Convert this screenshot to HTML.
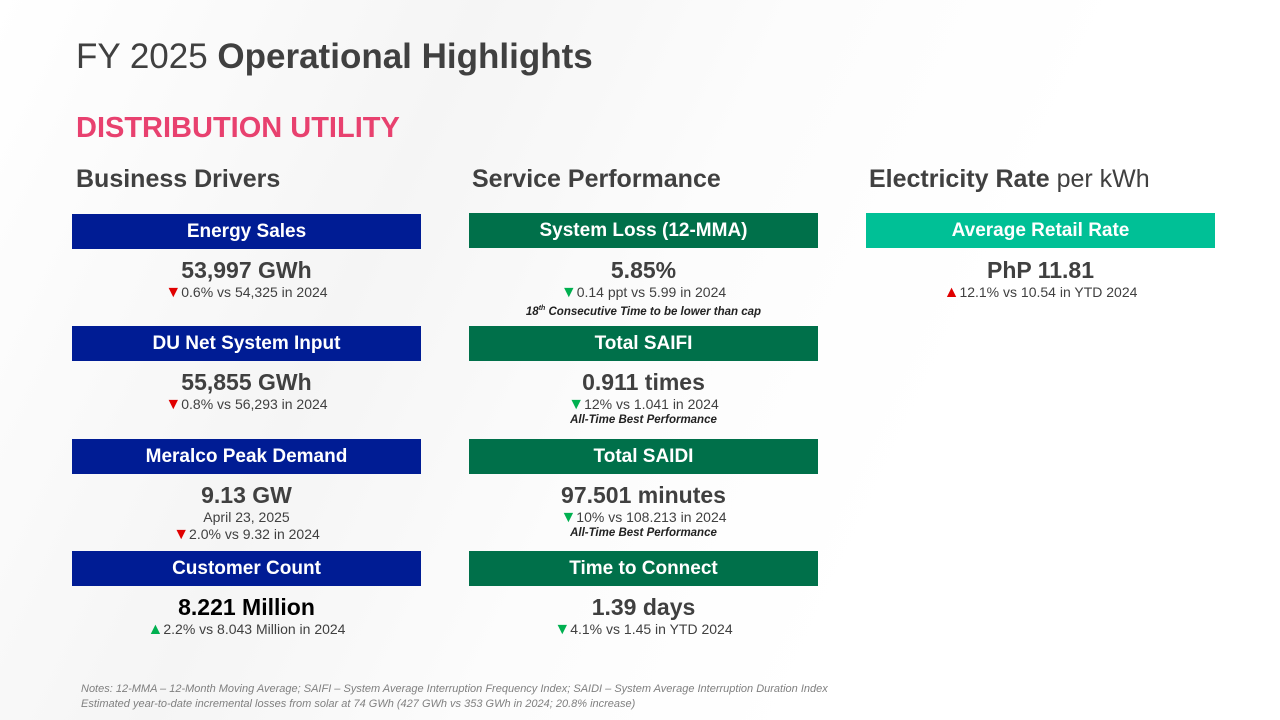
<!DOCTYPE html>
<html><head><style>
body{margin:0;width:1280px;height:720px;overflow:hidden;font-family:"Liberation Sans",sans-serif;color:#404040;background:#fff;position:relative}
.bg{position:absolute;inset:0;background:linear-gradient(115deg,#fff 0%,#f5f5f5 30%,#fcfcfc 50%,#fff 70%)}
.a{position:absolute}
.t{left:76px;top:37px;font-size:35px;color:#404040}
.du{left:76px;top:112px;font-size:29px;font-weight:bold;color:#e8416f}
.h{font-size:25px;font-weight:bold;color:#404040;top:165px}
.box{position:absolute;width:349px;height:35px;color:#fff;font-weight:bold;font-size:19px;text-align:center;line-height:35px}
.n{background:#001c94}.g{background:#00704a}.c{background:#00c096}
.v{position:absolute;width:349px;text-align:center}
.big{font-size:23px;font-weight:bold;line-height:28px}
.s{font-size:14px;line-height:17px}
.s span{font-size:16px}
.i{font-size:11.5px;font-style:italic;font-weight:bold;line-height:15px;color:#222}
.dr{color:#e00000}.dg{color:#00b050}
.note{left:81px;top:682px;font-size:11px;font-style:italic;color:#808080;line-height:15px}
</style></head><body>
<div class="bg"></div>
<div class="a t">FY 2025 <b>Operational Highlights</b></div>
<div class="a du">DISTRIBUTION UTILITY</div>
<div class="a h" style="left:76px">Business Drivers</div>
<div class="a h" style="left:472px">Service Performance</div>
<div class="a h" style="left:869px">Electricity Rate <span style="font-weight:normal">per kWh</span></div>

<div class="box n" style="left:72px;top:214px">Energy Sales</div>
<div class="v" style="left:72px;top:256px"><div class="big">53,997 GWh</div><div class="s"><span class="dr">▼</span>0.6% vs 54,325 in 2024</div></div>
<div class="box n" style="left:72px;top:326px">DU Net System Input</div>
<div class="v" style="left:72px;top:368px"><div class="big">55,855 GWh</div><div class="s"><span class="dr">▼</span>0.8% vs 56,293 in 2024</div></div>
<div class="box n" style="left:72px;top:439px">Meralco Peak Demand</div>
<div class="v" style="left:72px;top:481px"><div class="big">9.13 GW</div><div class="s">April 23, 2025</div><div class="s"><span class="dr">▼</span>2.0% vs 9.32 in 2024</div></div>
<div class="box n" style="left:72px;top:551px">Customer Count</div>
<div class="v" style="left:72px;top:593px"><div class="big" style="color:#000">8.221 Million</div><div class="s"><span class="dg">▲</span>2.2% vs 8.043 Million in 2024</div></div>

<div class="box g" style="left:469px;top:213px">System Loss (12-MMA)</div>
<div class="v" style="left:469px;top:256px"><div class="big">5.85%</div><div class="s"><span class="dg">▼</span>0.14 ppt vs 5.99 in 2024</div><div class="i">18<sup style="font-size:7px">th</sup> Consecutive Time to be lower than cap</div></div>
<div class="box g" style="left:469px;top:326px">Total SAIFI</div>
<div class="v" style="left:469px;top:368px"><div class="big">0.911 times</div><div class="s"><span class="dg">▼</span>12% vs 1.041 in 2024</div><div class="i">All-Time Best Performance</div></div>
<div class="box g" style="left:469px;top:439px">Total SAIDI</div>
<div class="v" style="left:469px;top:481px"><div class="big">97.501 minutes</div><div class="s"><span class="dg">▼</span>10% vs 108.213 in 2024</div><div class="i">All-Time Best Performance</div></div>
<div class="box g" style="left:469px;top:551px">Time to Connect</div>
<div class="v" style="left:469px;top:593px"><div class="big">1.39 days</div><div class="s"><span class="dg">▼</span>4.1% vs 1.45 in YTD 2024</div></div>

<div class="box c" style="left:866px;top:213px">Average Retail Rate</div>
<div class="v" style="left:866px;top:256px"><div class="big">PhP 11.81</div><div class="s"><span class="dr">▲</span>12.1% vs 10.54 in YTD 2024</div></div>

<div class="a note">Notes: 12-MMA – 12-Month Moving Average; SAIFI – System Average Interruption Frequency Index; SAIDI – System Average Interruption Duration Index<br>Estimated year-to-date incremental losses from solar at 74 GWh (427 GWh vs 353 GWh in 2024; 20.8% increase)</div>
</body></html>
